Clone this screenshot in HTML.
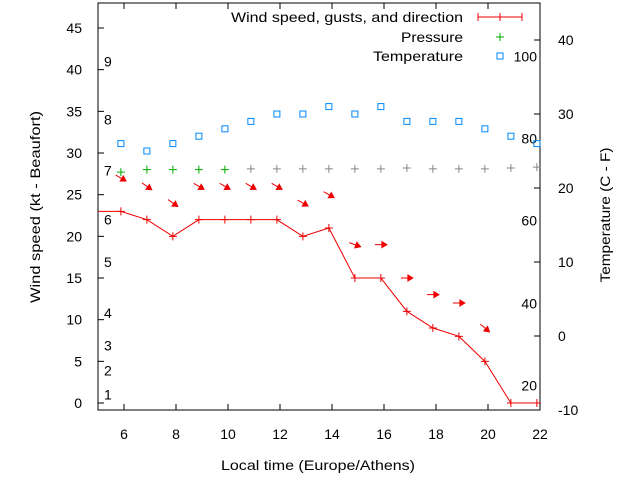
<!DOCTYPE html>
<html><head><meta charset="utf-8"><style>
body{margin:0;background:#fff}
svg{display:block;font-family:"Liberation Sans",sans-serif;font-size:14px}
</style></head><body>
<svg id="c" width="640" height="480">
<rect x="98" y="3" width="442" height="407" fill="none" stroke="#000" stroke-width="1"/>
<g id="axes"></g><g id="marks"></g>
<text x="40" y="207" text-anchor="middle" textLength="192" lengthAdjust="spacingAndGlyphs" transform="rotate(-90 40 207)">Wind speed (kt - Beaufort)</text>
<text x="610" y="215" text-anchor="middle" textLength="135" lengthAdjust="spacingAndGlyphs" transform="rotate(-90 610 215)">Temperature (C - F)</text>
<text x="318" y="470" text-anchor="middle" textLength="194" lengthAdjust="spacingAndGlyphs">Local time (Europe/Athens)</text>
<g>
<text x="463" y="22" text-anchor="end" textLength="232" lengthAdjust="spacingAndGlyphs">Wind speed, gusts, and direction</text>
<path d="M478 17H522M478 13V21M500 13V21M522 13V21" stroke="#e00" fill="none"/>
<text x="463" y="42" text-anchor="end" textLength="62" lengthAdjust="spacingAndGlyphs">Pressure</text>
<path d="M496 37H504M500 33V41" stroke="#0a0"/>
<text x="463" y="61" text-anchor="end" textLength="90" lengthAdjust="spacingAndGlyphs">Temperature</text>
<rect x="497" y="53" width="6" height="6" fill="none" stroke="#08f"/>
</g>
</svg>
<script>
const hours=[5.88,6.88,7.88,8.88,9.88,10.88,11.88,12.88,13.88,14.88,15.88,16.88,17.88,18.88,19.88,20.88,21.88];
const wind=[23,22,20,22,22,22,22,20,21,15,15,11,9,8,5,0,0];
const pressure=[27.7,28,28,28,28,28.1,28.1,28.1,28.1,28.1,28.1,28.2,28.1,28.1,28.1,28.2,28.3];
const temperature=[26,25,26,27,28,29,30,30,31,30,31,29,29,29,28,27,26];
const dirAngle=[30,35,35,30,30,30,30,30,30,20,0,0,0,0,40,20];
const xTicks=[6,8,10,12,14,16,18,20,22];
const yTicks=[0,5,10,15,20,25,30,35,40,45];
const y2Ticks=[-10,0,10,20,30,40];
const beaufort=[[1,1],[2,3.9],[3,6.9],[4,10.8],[5,16.9],[6,22],[7,27.9],[8,34],[9,41]];
const fahr=[[20,-6.7],[40,4.4],[60,15.6],[80,26.7],[100,37.8]];
const NS="http://www.w3.org/2000/svg";
const X=v=>98+(v-5)*26, Y=v=>403-v*8.333, Y2=v=>410-(v+10)*7.4;
const ax=document.getElementById('axes'),mk=document.getElementById('marks');
function el(p,t,a,txt){const e=document.createElementNS(NS,t);for(const k in a)e.setAttribute(k,a[k]);if(txt!==undefined)e.textContent=txt;p.appendChild(e);return e;}
xTicks.forEach(t=>{const x=X(t);
const l=el(ax,'path',{d:`M${x} 410V404M${x} 3V9`,stroke:'#000'});


const tx=el(ax,'text',{x:x,y:439,'text-anchor':'middle'},t);

});
yTicks.forEach(t=>{const y=Y(t);
const l=el(ax,'path',{d:`M98 ${y}H104`,stroke:'#000'});


const tx=el(ax,'text',{x:82,y:y+5,'text-anchor':'end'},t);

});
y2Ticks.forEach(t=>{const y=Y2(t);
const l=el(ax,'path',{d:`M540 ${y}H534`,stroke:'#000'});


const tx=el(ax,'text',{x:558,y:y+5,'text-anchor':'start'},t);

});
beaufort.forEach(b=>{const tx=el(ax,'text',{x:104,y:Y(b[1])+5},b[0]);

});
fahr.forEach(f=>{const tx=el(ax,'text',{x:537,y:Y2(f[1])+5,'text-anchor':'end'},f[0]);

});
let d=`M${X(5)} ${Y(wind[0])}`;hours.forEach((h,i)=>d+=`L${X(h)} ${Y(wind[i])}`);d+=`L${X(22)} ${Y(wind[wind.length-1])}`;
const ln=el(mk,'path',{d:d,stroke:'#e00',fill:'none'});


hours.forEach((h,i)=>{const x=X(h),y=Y(wind[i]);
const p=el(mk,'path',{d:`M${x-4} ${y}H${x+4}M${x} ${y-4}V${y+4}`,stroke:'#e00'});


const pr=el(mk,'path',{d:`M${X(h)-4} ${Y(pressure[i])}H${X(h)+4}M${X(h)} ${Y(pressure[i])-4}V${Y(pressure[i])+4}`,stroke:i<5?'#0a0':'#888'});


const tp=el(mk,'rect',{x:X(h)-3,y:Y2(temperature[i])-3,width:6,height:6,fill:'none',stroke:'#08f'});


if(i<dirAngle.length&&wind[i]>0){const a=dirAngle[i]*Math.PI/180,cx=x,cy=Y(wind[i]+4),L=6;
const x1=cx-L*Math.cos(a),y1=cy-L*Math.sin(a),x2=cx+L*Math.cos(a),y2=cy+L*Math.sin(a);
const hx=x2-5*Math.cos(a),hy=y2-5*Math.sin(a),nx=-Math.sin(a)*3,ny=Math.cos(a)*3;
const ar=el(mk,'path',{d:`M${x1} ${y1}L${hx} ${hy}M${x2} ${y2}L${hx+nx} ${hy+ny}L${hx-nx} ${hy-ny}Z`,stroke:'#e00',fill:'#e00'});

}});
</script>
</body></html>
